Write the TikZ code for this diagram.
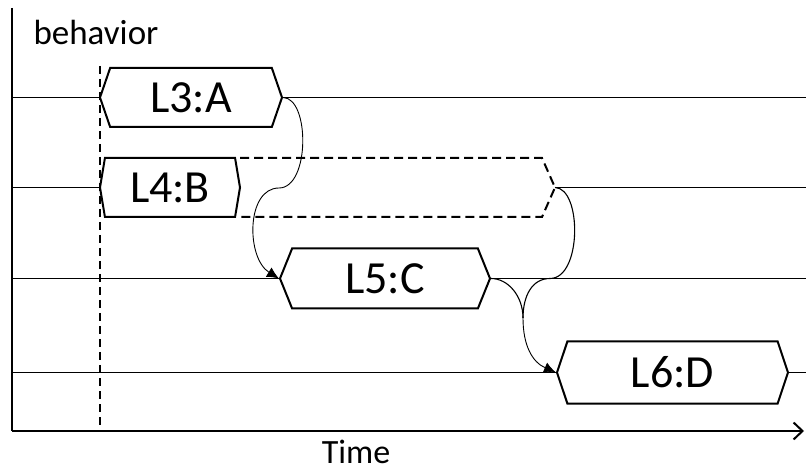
\documentclass[tikz,border=0pt]{standalone}
\usepackage{fontspec}
\setmainfont{Carlito}
\usetikzlibrary{arrows.meta, shapes.symbols}

\begin{document}
\begin{tikzpicture}[x=1pt, y=-1pt,
		blk/.style={draw, line width=2pt, signal, signal to=west and east, inner sep=0pt, font=\fontsize{46}{46}\selectfont},
		row/.style={line width=1.1pt},
		flow/.style={line width=0.9pt, -{Latex[length=12pt,width=11pt]}}]
			\useasboundingbox (0,0) rectangle (806,470);
			% axes
			\coordinate (o) at (12,431);
			\coordinate (top) at (12,8);
			\coordinate (tend) at (804,431);
			\draw[line width=2pt] (top) -- (o);
			\draw[line width=2pt, -{Straight Barb[length=9pt,width=17pt]}] (o) -- (tend);
			\node[font=\fontsize{35}{35}\selectfont, anchor=west] (beh) at (30,32) {behavior};
			\node[font=\fontsize{34}{34}\selectfont, anchor=base, inner sep=0pt] (time) at (356,463) {Time};
			% start of the run
			\coordinate (s0) at (100,66);
			\coordinate (s1) at (100,431);
			\draw[line width=2.5pt, dash pattern=on 8pt off 5pt] (s0) -- (s1);
			% blocks
			\node[blk, signal pointer angle=142, minimum width=182, minimum height=59] (a) at (191,97.5) {L3:A};
			\node[blk, signal pointer angle=161, minimum width=140, minimum height=59] (b) at (170,187.5) {L4:B};
			\node[blk, signal pointer angle=136, minimum width=210, minimum height=60] (c) at (385,278.5) {L5:C};
			\node[blk, signal pointer angle=143, minimum width=231, minimum height=62] (d) at (672.5,372.5) {L6:D};
			% stretched end of L4:B
			\coordinate (bt) at (555,187.5);
			\draw[line width=2pt, dash pattern=on 9pt off 5pt] (240,158) -- (542,158) -- (bt) -- (542,217) -- (240,217);
			% row lines
			\foreach \n/\y in {a/97.5, b/187.5, c/278.5, d/372.5} {
				\coordinate (l\n) at (12,\y);
				\coordinate (r\n) at (806,\y);
			}
			\draw[row] (la) -- (a.west);
			\draw[row] (a.east) -- (ra);
			\draw[row] (lb) -- (b.west);
			\draw[row] (bt) -- (rb);
			\draw[row] (lc) -- (c.west);
			\draw[row] (c.east) -- (rc);
			\draw[row] (ld) -- (d.west);
			\draw[row] (d.east) -- (rd);
			% hand-over curves
			\coordinate (m1) at (279,188);
			\coordinate (m2) at (550,278.5);
			\coordinate (m3) at (523,318);
			\draw[flow] (a.east) .. controls (310,98) and (310,188) .. (m1) .. controls (246,188) and (246,258) .. (c.west);
			\draw[row] (bt) .. controls (582,188) and (582,278.5) .. (m2) .. controls (532,278.5) and (523,296) .. (m3);
			\draw[row] (c.east) .. controls (508,278.5) and (523,296) .. (m3);
			\draw[flow] (m3) .. controls (523,345) and (532,362) .. (d.west);
		\end{tikzpicture}
\end{document}
